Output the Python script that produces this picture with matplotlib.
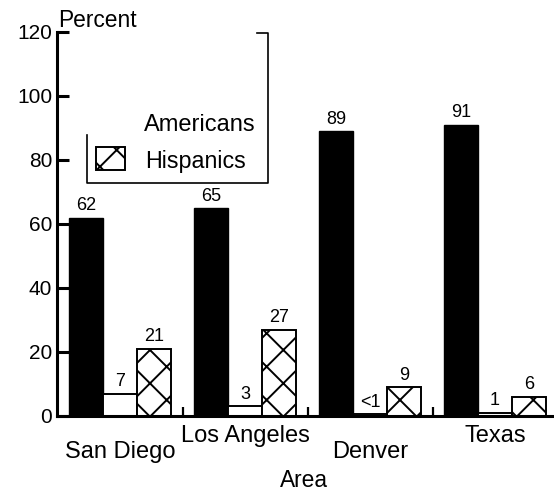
import matplotlib
matplotlib.use('Agg')
import matplotlib.pyplot as plt
from matplotlib.patches import Rectangle
from matplotlib.transforms import ScaledTranslation
import numpy as np

areas = ['San Diego', 'Los Angeles', 'Denver', 'Texas']
americans = [62, 65, 89, 91]
other = [7, 3, 0.6, 1]
other_labels = ['7', '3', '<1', '1']
hispanics = [21, 27, 9, 6]
yticks = [0, 20, 40, 60, 80, 100, 120]

plt.rcParams['font.family'] = ['Liberation Sans', 'DejaVu Sans']
plt.rcParams['hatch.linewidth'] = 0.7

# drawn at 200 dpi so the cross hatch comes out as coarse as in the scan
fig = plt.figure(figsize=(2.77, 2.46), dpi=200)
ax = fig.add_axes([0.1029, 0.1545, 0.8971, 0.7805])

x = np.arange(len(areas))
w = 0.27
b1 = ax.bar(x - w, americans, w, color='black', edgecolor='black', linewidth=0.5)
b2 = ax.bar(x, other, w, color='white', edgecolor='black', linewidth=0.7)
b3 = ax.bar(x + w, hispanics, w, color='white', edgecolor='black', linewidth=0.7, hatch='xx')

ax.bar_label(b1, padding=1.2, fontsize=6.5)
ax.bar_label(b2, labels=other_labels, padding=1.2, fontsize=6.5)
ax.bar_label(b3, padding=1.2, fontsize=6.5)

ax.set_yticks(yticks)
ax.tick_params(axis='y', direction='in', length=4.3, width=1.1, pad=1.8, labelsize=7.5)
ax.set_xticks(x)
ax.set_xticklabels(areas)
ax.tick_params(axis='x', which='major', length=0, pad=9, labelsize=8.5)
ax.set_xticks(x + 0.5, minor=True)
ax.tick_params(axis='x', which='minor', direction='in', length=3.2, width=0.8)

# every second area name sits higher, as in the original
for lab in ax.get_xticklabels()[1::2]:
    lab.set_transform(lab.get_transform() + ScaledTranslation(0, 0.08, fig.dpi_scale_trans))

for s in ['top', 'right']:
    ax.spines[s].set_visible(False)
ax.spines['left'].set_linewidth(1.1)
ax.spines['bottom'].set_linewidth(1.1)

ax.set_xlabel('Area', fontsize=8.2)
ax.xaxis.set_label_coords(0.497, -0.138)
ax.text(0.002, 1.031, 'Percent', transform=ax.transAxes, ha='left', va='center', fontsize=8.2)

# legend (the scan only kept part of its frame)
ax.plot([0.402, 0.424, 0.424, 0.0604, 0.0604], [0.997, 0.997, 0.607, 0.607, 0.732],
        transform=ax.transAxes, color='black', lw=0.6, clip_on=False)
ax.add_patch(Rectangle((0.0785, 0.641), 0.058, 0.059, transform=ax.transAxes,
                       facecolor='white', edgecolor='black', hatch='xx', lw=0.7))
ax.text(0.175, 0.758, 'Americans', transform=ax.transAxes, va='center', fontsize=8.5)
ax.text(0.177, 0.664, 'Hispanics', transform=ax.transAxes, va='center', fontsize=8.4)

ax.set_xlim(-0.504, 3.472)
ax.set_ylim(0, 120)

fig.savefig('out.png', dpi=200)
